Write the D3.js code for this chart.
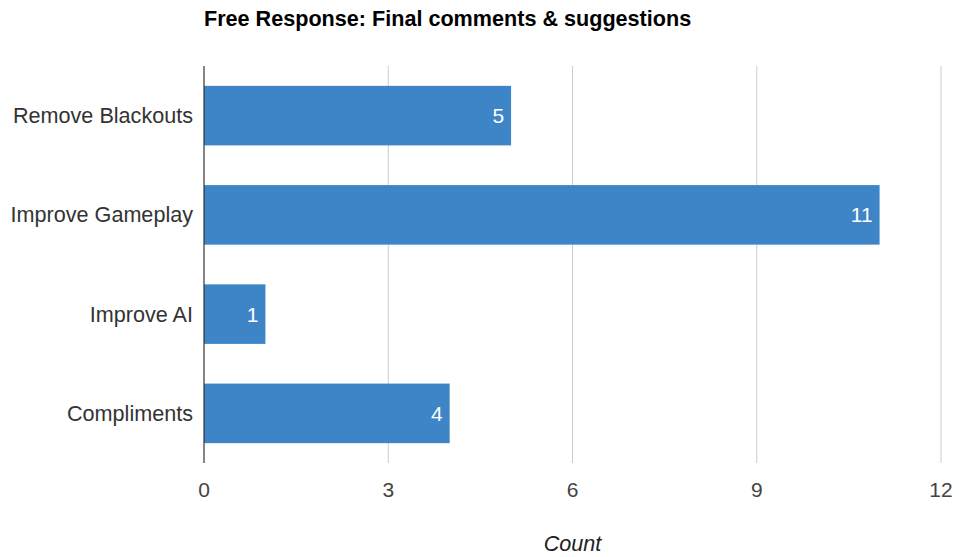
<!DOCTYPE html>
<html><head><meta charset="utf-8">
<script src="https://cdn.jsdelivr.net/npm/d3@7"></script>
<style>body{margin:0;background:#fff}svg{display:block;font-family:"Liberation Sans",Arial,sans-serif}</style>
</head><body><svg id="c" width="959" height="557"></svg>
<script>
const categories = ["Remove Blackouts","Improve Gameplay","Improve AI","Compliments"];
const counts = [5, 11, 1, 4];
const xTicks = [0, 3, 6, 9, 12];
const title = "Free Response: Final comments & suggestions";
const xTitle = "Count";

const svg = d3.select("#c");
const m = {l:204, r:941, t:66, b:463};
const x = d3.scaleLinear().domain([0,12]).range([m.l, m.r]);
const y = d3.scaleBand().domain(categories).range([m.t, m.b]).paddingInner(0.4).paddingOuter(0.2);

svg.append("g").selectAll("line").data(xTicks.filter(d=>d>0)).join("line")
  .attr("x1",d=>x(d)).attr("x2",d=>x(d)).attr("y1",m.t).attr("y2",m.b)
  .attr("stroke","#cccccc").attr("stroke-width",1);

svg.append("g").selectAll("rect").data(counts).join("rect")
  .attr("x",x(0)).attr("y",(d,i)=>y(categories[i]))
  .attr("width",d=>x(d)-x(0)).attr("height",y.bandwidth())
  .attr("fill","#3d85c6");

svg.append("line").attr("x1",x(0)).attr("x2",x(0)).attr("y1",m.t).attr("y2",m.b)
  .attr("stroke","#333").attr("stroke-width",1.2);

svg.append("g").selectAll("text").data(counts).join("text")
  .attr("x",d=>x(d)-7).attr("y",(d,i)=>y(categories[i])+y.bandwidth()/2+7.5)
  .attr("text-anchor","end").attr("fill","#ffffff").attr("font-size",21)
  .text(d=>d);

svg.append("g").selectAll("text").data(categories).join("text")
  .attr("x",m.l-11).attr("y",d=>y(d)+y.bandwidth()/2+7.5)
  .attr("text-anchor","end").attr("fill","#333").attr("font-size",21.6)
  .text(d=>d);

svg.append("g").selectAll("text").data(xTicks).join("text")
  .attr("x",d=>x(d)).attr("y",497).attr("text-anchor","middle")
  .attr("fill","#444").attr("font-size",21).text(d=>d);

svg.append("text").attr("x",204).attr("y",26).attr("font-weight","bold")
  .attr("font-size",21.6).attr("fill","#000").text(title);

svg.append("text").attr("x",(m.l+m.r)/2).attr("y",551).attr("text-anchor","middle")
  .attr("font-style","italic").attr("font-size",21.6).attr("fill","#222").text(xTitle);
</script></body></html>
